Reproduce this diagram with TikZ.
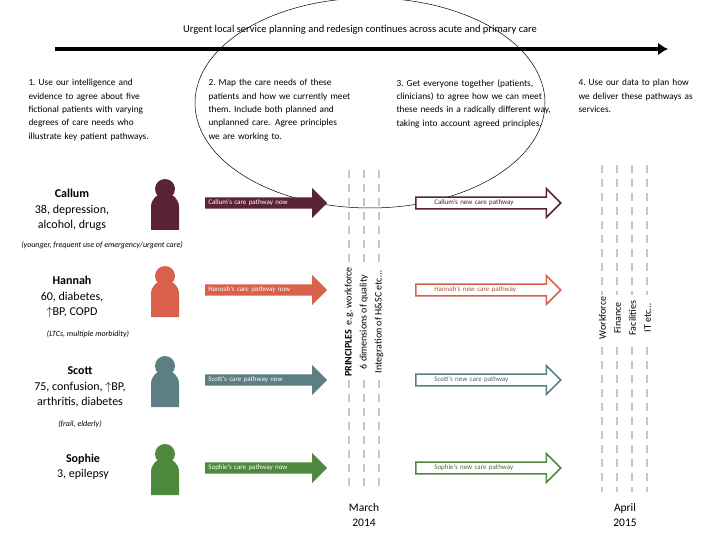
\documentclass[tikz,border=0pt]{standalone}
\usepackage{fontspec}
\setmainfont{Carlito}
\usetikzlibrary{shapes.arrows,arrows.meta}
\definecolor{cal}{HTML}{5A2338}
\definecolor{han}{HTML}{D9604A}
\definecolor{sco}{HTML}{5B7F82}
\definecolor{sop}{HTML}{4E8A3E}
\hyphenpenalty=10000
\exhyphenpenalty=10000
\begin{document}
\begin{tikzpicture}[x=1pt,y=-1pt,
  nowarr/.style={single arrow, minimum height=122pt, minimum width=30pt, single arrow head extend=7pt, inner sep=1pt, font=\fontsize{7}{8}\selectfont, text=white, anchor=west, align=left, text width=110pt},
  newarr/.style={single arrow, draw=#1, text=#1!80!black, line width=1.6pt, fill=white, minimum height=145pt, minimum width=29pt, single arrow head extend=7pt, inner sep=1pt, font=\fontsize{7}{8}\selectfont, anchor=west, text width=130pt, align=left},
  dashline/.style={gray!45, line width=2pt, dash pattern=on 8pt off 6pt},
  txt/.style={font=\fontsize{9.3}{13.3}\selectfont, align=left, anchor=north west},
  pname/.style={font=\fontsize{12}{15.5}\selectfont, align=center},
  note/.style={font=\itshape\fontsize{8}{9}\selectfont}]
\useasboundingbox (0,0) rectangle (720,540);
\node (title) at (360,30) {\fontsize{10.5}{12}\selectfont Urgent local service planning and redesign continues across acute and primary care};
\coordinate (tl) at (55,49); \coordinate (tr) at (668,49);
\draw[line width=4pt,-{Latex[length=10pt,width=13pt]}] (tl) -- (tr);
\draw[line width=0.5pt] (370,103) ellipse (175pt and 105pt);
\node[txt, text width=140pt] (t1) at (25,76) {1.\ Use our intelligence and evidence to agree about five fictional patients with varying degrees of care needs who illustrate key patient pathways.};
\node[txt, text width=146pt] (t2) at (205,76) {2.\ Map the care needs of these patients and how we currently meet them.\ Include both planned and unplanned care. Agree principles we are working to.};
\node[txt, text width=160pt] (t3) at (393,76) {3.\ Get everyone together (patients, clinicians) to agree how we can meet these needs in a radically different way, taking into account agreed principles.};
\node[txt, text width=125pt] (t4) at (575,76) {4.\ Use our data to plan how we deliver these pathways as services.};
% dashed lines
\foreach \x in {349,364,379} \draw[dashline] (\x,170) -- (\x,492);
\foreach \x in {602,617,632,647} \draw[dashline] (\x,165) -- (\x,492);
\node[fill=white, rotate=90, align=center, font=\fontsize{10}{15}\selectfont, inner sep=2pt] (pr) at (364,322) {\textbf{PRINCIPLES}\ \ e.g.\ workforce\\6 dimensions of quality\\Integration of H\&SC etc\dots};
\node[fill=white, rotate=90, align=center, font=\fontsize{10}{15}\selectfont, inner sep=2pt] (wf) at (625,318) {Workforce\\Finance\\Facilities\\IT etc\dots};
% people
\foreach \c/\y/\n in {cal/203/pc,han/290/ph,sco/380/ps,sop/468/pp}{
  \fill[\c] (165,\y-14) circle (10pt);
  \fill[\c] (151,\y+27) -- (151,\y+4) arc (180:0:14pt) -- (179,\y+27) -- cycle;
}
\node[pname] (cn) at (72,210) {\textbf{Callum}\\38, depression,\\alcohol, drugs};
\node[note] (cnote) at (102,245) {(younger, frequent use of emergency/urgent care)};
\node[pname] (hn) at (72,297) {\textbf{Hannah}\\60, diabetes,\\$\uparrow$BP, COPD};
\node[note] (hnote) at (88,334) {(LTCs, multiple morbidity)};
\node[pname] (sn) at (80,387) {\textbf{Scott}\\75, confusion, $\uparrow$BP,\\arthritis, diabetes};
\node[note] (snote) at (80,424) {(frail, elderly)};
\node[pname] (pn) at (83,467) {\textbf{Sophie}\\3, epilepsy};
% arrows
\node[nowarr, fill=cal] (a1) at (205,203) {Callum's care pathway now};
\node[nowarr, fill=han] (a2) at (205,290) {Hannah's care pathway now};
\node[nowarr, fill=sco] (a3) at (205,380) {Scott's care pathway now};
\node[nowarr, fill=sop] (a4) at (205,468) {Sophie's care pathway now};
\node[newarr=cal] (b1) at (415,203) {\hspace*{14pt}Callum's new care pathway};
\node[newarr=han] (b2) at (415,290) {\hspace*{14pt}Hannah's new care pathway};
\node[newarr=sco] (b3) at (415,380) {\hspace*{14pt}Scott's new care pathway};
\node[newarr=sop] (b4) at (415,468) {\hspace*{14pt}Sophie's new care pathway};
\node[pname, font=\fontsize{11.5}{15}\selectfont] (m) at (364,515) {March\\2014};
\node[pname, font=\fontsize{11.5}{15}\selectfont] (ap) at (625,515) {April\\2015};
\end{tikzpicture}
\end{document}
